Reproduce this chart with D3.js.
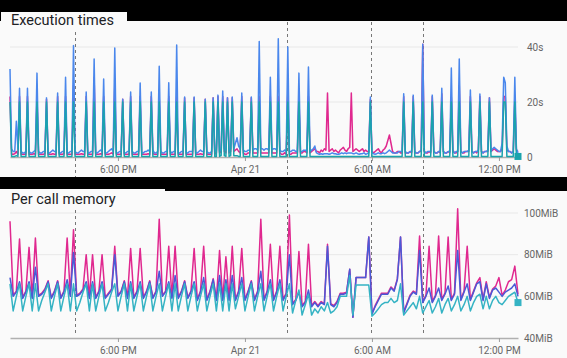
<!DOCTYPE html>
<html><head><meta charset="utf-8">
<script src="https://cdn.jsdelivr.net/npm/d3@7"></script>
<style>body{margin:0;background:#000;} svg{display:block;} text{font-family:Roboto,"Noto Sans",sans-serif;}</style>
</head><body><svg id="c" width="567" height="358"></svg>
<script>
// Time range: Apr 20 12:54 to Apr 21 12:54
const sampleStart = new Date(2021, 3, 20, 12, 54);
const execStepMin = 4.5;   // execution-time samples every 4.5 minutes
const memStepMin = 9;      // memory samples every 9 minutes
const xTickValues = [new Date(2021,3,20,18,0), new Date(2021,3,21,0,0), new Date(2021,3,21,6,0), new Date(2021,3,21,12,0)];
const xTickLabels = ["6:00 PM", "Apr 21", "6:00 AM", "12:00 PM"];
const eventTimes = [new Date(2021,3,20,15,58), new Date(2021,3,21,1,59), new Date(2021,3,21,5,57), new Date(2021,3,21,8,25)];

const execTicks = [0, 20, 40];
const execTickLabels = ["0", "20s", "40s"];
const memTicks = [40, 60, 80, 100];
const memTickLabels = ["40MiB", "60MiB", "80MiB", "100MiB"];

// Execution times (seconds)
const execBlue = [
32,3,2,2,13,3,25,2,1.5,1.5,2,25,2,1.5,1.5,2,2.5,30.5,2,1.5,
1.5,2,2,21.5,1.5,1.5,2,2.5,2,2,23.3,1.5,1.5,2,2,29,1.5,1.5,2,2,
40.5,2,1.5,1.5,2,2.5,2,2,23.6,1.5,1.5,2,2,35.6,1.5,1.5,2,2.5,2,28.4,
1.5,1.5,2,2.5,3,2,39.6,1.5,1.5,2,2,21,1.5,1.5,2,2,23.6,2,1.5,1.5,
2,2,26.9,1.5,1.5,2,2,2.5,2,23.6,2.5,1.5,1.5,2,33,2,1.5,1.5,2,2,
27,2,1.5,2,2,40.7,1.5,1.5,2,2,21.8,1.5,1.5,2,2,2,21.8,1.5,1.5,2,
2.5,2,2,21,2,1.5,1.5,2,21.5,2,2.5,22.5,2,3,24,3,2.5,21.5,2,3,
21.8,3,5,7,4,3,23.3,2.5,2,2,2.5,2.5,21.8,2.5,3,3,2.5,42,3,3,
2.5,3,3,2.5,29,2.5,3,3,2.5,43,2.5,2,2,2.5,2,40,2,2,2.5,2.5,
2,2,30.5,2,2,2.5,2.5,2,32.7,2,2.5,3,4,1.5,1.2,1,1.2,1,1.2,1.2,
1.2,1,1.2,1.5,1.2,1.2,1,1,1.2,1.5,1.2,1.5,1.2,1.5,1.5,1.5,1.2,1.2,1.5,1.2,
1,1.2,1.2,1.5,1,1.2,1.5,21.8,1.5,1.2,1,1.2,1.5,1.2,1.2,1.5,1.2,1.5,2,2.5,
2,1.5,1.5,1.5,1.5,2,2,2,23,2,1.5,1.5,2,2,22.5,2,1.5,1.5,2,2.5,
41,2,1.5,2,2,2,22.5,2,1.5,1.5,2,2,25,2,1.5,1.5,2,2,32.4,2,
1.5,2,2,35.6,2,1.5,2,2,2,2.5,24.4,2,1.5,2,2,2.5,22.9,2,1.5,2,
2,2.5,21.5,2,3,3.5,3,2.5,2,2,5,29,27,4,2,2,1.5,2,29,3,
1.5];
const execPink = [
22,1,1,1.2,2,1,22,1,1,1,1,22,1,1,1,1.2,1,22,1,1,
1,1,1.2,21,1,1,1,1.2,1,1,22,1,1,1,1.2,22,1,1,1,1,
26,1,1,1,1,1.2,1,1,22,1,1,1,1,29,1,1,1,1.2,1,22,
1,1,1,1.2,1.5,1,26,1,1,1,1,21,1,1,1,1,22,1,1,1,
1,1,22,1,1,1,1,1.2,1,22,1.2,1,1,1,22,1,1,1,1,1,
22,1,1,1,1,22,1,1,1,1,21.5,1,1,1,1,1,21.5,1,1,1,
1.2,1,1,21,1,1,1,1,21.5,1,1.5,22,1.5,2,22,2,1.5,21.5,1.5,2,
21.5,2,2.5,3,2,1.5,22,1.5,1,1,1.5,1.5,21.5,1.5,1.5,1.5,1.5,22,1.5,1.5,
1.5,1.5,1.5,1.5,22,1.5,1.5,1.5,1.5,22,1.5,1,1,1.5,1,24,1,1,1.5,1.5,
1.5,1.5,22,1.5,1.5,2,2,1.5,22,1.5,2,2.5,3,2,2,1.5,2.5,2,3,2.5,
23.3,2,2.5,3,2,2.5,2,1.5,2.5,3,3.5,2.5,2,3,3.5,23.3,2,2.5,3,2.5,
2,2.5,3,2,2.5,2,2,21,2,1.5,2,2.5,3,2,1.5,2.5,3,4,6,8,
5,2,1.5,1.5,2,2,1.5,1.5,22,1.5,1.5,1.5,2,1.5,22,1.5,1.5,1.5,2,2,
41,2,1.5,1.5,2,1.5,22,2,1.5,1.5,2,1.5,23,2,1.5,1.5,2,1.5,21.8,2.5,
1.5,1.5,2,26,2,1.5,1.5,2,2,2,22,2,1.5,2,1.5,2.5,22,2,1.5,2,
2,2,21.5,2,2.5,3,2.5,2,2,2,3,22,22,2.5,2,2,1.5,2,21.5,2.5,
2];
const execTeal = [
20,.2,.2,.2,.5,.2,20,.2,.2,.2,.2,20,.2,.2,.2,.2,.2,20,.2,.2,
.2,.2,.2,20,.2,.2,.2,.2,.2,.2,20,.2,.2,.2,.2,20,.2,.2,.2,.2,
20,.2,.2,.2,.2,.2,.2,.2,20,.2,.2,.2,.2,20,.2,.2,.2,.2,.2,20,
.2,.2,.2,.2,.2,.2,20,.2,.2,.2,.2,20,.2,.2,.2,.2,20,.2,.2,.2,
.2,.2,20,.2,.2,.2,.2,.2,.2,20,.2,.2,.2,.2,20,.2,.2,.2,.2,.2,
20,.2,.2,.2,.2,20,.2,.2,.2,.2,20,.2,.2,.2,.2,.2,20,.2,.2,.2,
.2,.2,.2,20,.2,.2,.2,.2,20,.2,.2,20,.2,.5,20,.5,.2,20,.2,.5,
20,.5,.5,.5,.2,.2,20,.2,.2,.2,.2,.2,20,.2,.2,.2,.2,20,.2,.2,
.2,.2,.2,.2,20,.2,.2,.2,.2,20,.2,.2,.2,.2,.2,20,.2,.2,.2,.2,
.2,.2,20,.2,.2,.2,.2,.2,20,.2,.2,.2,.2,.2,.2,.2,.2,.2,.2,.2,
.2,.2,.2,.2,.2,.2,.2,.2,.2,.2,.2,.2,.2,.2,.2,.2,.2,.2,.2,.2,
.2,.2,.2,.2,.2,.2,.2,20,.2,.2,.2,.2,.2,.2,.2,.2,.2,.2,.2,.2,
.2,.2,.2,.2,.2,.2,.2,.2,20,.2,.2,.2,.2,.2,20,.2,.2,.2,.2,.2,
20,.2,.2,.2,.2,.2,20,.2,.2,.2,.2,.2,20,.2,.2,.2,.2,.2,20,.2,
.2,.2,.2,20,.2,.2,.2,.2,.2,.2,20,.2,.2,.2,.2,.2,20,.2,.2,.2,
.2,.2,20,.2,.2,.2,.2,.2,.2,.2,.2,20,20,.2,.2,.2,.2,.2,20,.2,
.2];

// Per call memory (MiB)
const memPink = [96,60.5,62.5,87.5,59.5,62.5,83.5,59.5,88,60.5,61.5,63.5,67.5,59.5,62.5,67.5,59.5,62.5,88,60.5,92,60.5,61.5,63.5,80,59.5,80,59.5,62.5,80,59.5,61.5,63.5,84,60.5,62.5,67.5,59.5,83,59.5,62.5,83,59.5,62.5,67.5,59.5,62.5,97,60.5,62.5,84,59.5,84,59.5,62.5,67.5,59.5,62.5,83,58.5,62.5,84,58.5,62.5,68.5,58.5,82,58.5,79,58.5,84,58.5,62.5,83,58.5,62.5,67.5,58.5,62.5,97,58.5,62.5,85,58.5,62.5,84,58.5,61.5,99,56.5,58.5,81.5,55.5,57.5,85,55.5,57.5,55.5,57.5,56.5,85,56.5,55.5,57.5,61.5,61.5,62,73,50,69,69,69,69,88.5,51.5,55.5,58.5,61.5,61.5,61.5,64.5,63,68.5,88.5,52.5,56.5,60.5,62.5,61.5,89,57.5,60.5,84,57.5,60.5,89,58.5,61.5,88.5,58.5,61.5,102,58.5,62.5,84,58.5,62.5,66.5,69,58.5,67,59.5,63.5,65,69,60.5,63,67,68,74.5,61];
const memBlue = [69,60,62,67,59,62,67,59,74,60,61,63,67,59,62,67,59,62,68,60,81,60,61,63,67,59,67,59,62,67,59,61,63,80,60,62,67,59,67,59,62,67,59,62,67,59,62,72,60,62,67,59,70,59,62,67,59,62,67,58,62,69,58,62,68,58,70,58,68,58,70,58,62,69,58,62,67,58,62,72,58,62,68,58,62,68,58,61,80,56,58,62,55,57,63,55,57,55,57,56,84,56,55,57,61,61,61.5,73,50,69,69,69,69,88.5,51.5,55,58,61,61,61,64,62.5,68,88.5,52,56,60,62,61,82,57,60,64,57,60,64,58,61,65,58,61,82,58,62,66,58,62,66,67,58,66,59,63,64,62,60,62,63,64,66,60];
const memTeal = [66,53,60,66,53,60,66,53,66,53,58,62,66,53,60,66,53,60,66,53,66,53,57,62,66,53,66,53,60,66,53,57,62,66,53,60,66,53,66,53,60,66,53,60,66,53,60,66,53,60,66,53,66,53,60,66,53,60,66,53,60,66,53,60,66,53,66,53,66,53,66,54,60,66,53,60,66,53,60,66,53,60,66,53,60,66,53,60,66,52,58,63,51,56,61,51,54,52,55,53,57,52,53,55,60,60,60,70,51,65.5,65.5,65.5,65.5,65.5,50.5,52,54,56,57,57,59,57,58,66,51,53,55,57,54,60,52,55,58,52,55,59,52,56,59,53,56,60,53,56,60,53,57,60,61,54,60,54,58,60,57,56,58,60,61,62,57];

const execTimes = execBlue.map((_, i) => new Date(+sampleStart + i * execStepMin * 60000));
const memTimes = memBlue.map((_, i) => new Date(+sampleStart + i * memStepMin * 60000));

const svg = d3.select("#c");
svg.append("rect").attr("width", 567).attr("height", 358).attr("fill", "#000");

const x = d3.scaleTime().domain([sampleStart, memTimes[memTimes.length - 1]]).range([10, 518]);

function panel(cfg) {
  const g = svg.append("g");
  g.append("rect").attr("x", 0).attr("y", cfg.top).attr("width", 567).attr("height", cfg.bottom - cfg.top).attr("fill", "#fafafa");
  g.append("rect").attr("x", cfg.titleX0).attr("y", cfg.titleTop).attr("width", cfg.titleW).attr("height", cfg.titleH).attr("fill", "#fafafa");
  const y = d3.scaleLinear().domain(cfg.domain).range(cfg.range);
  g.selectAll(".grid").data(cfg.ticks.slice(1)).join("line")
    .attr("x1", 10).attr("x2", 518).attr("y1", d => y(d)).attr("y2", d => y(d))
    .attr("stroke", "#e8e8e8").attr("stroke-width", 1);
  g.selectAll(".ev").data(eventTimes).join("line")
    .attr("x1", d => Math.round(x(d)) + 0.5).attr("x2", d => Math.round(x(d)) + 0.5)
    .attr("y1", (d, i) => i === 0 ? cfg.dashTop0 : cfg.dashTop).attr("y2", cfg.dashBottom)
    .attr("stroke", "#777").attr("stroke-width", 1).attr("stroke-dasharray", "3,3");
  const ax = g.append("g").attr("transform", `translate(0,${y(cfg.domain[0])})`)
    .call(d3.axisBottom(x).tickValues(xTickValues).tickFormat((d, i) => xTickLabels[i]).tickSize(4).tickSizeOuter(0));
  ax.select(".domain").attr("stroke", "#b0b0b0").attr("stroke-width", 1.5);
  ax.selectAll(".tick line").attr("stroke", "#9e9e9e");
  ax.selectAll(".tick text").attr("fill", "#666").attr("font-size", 10).attr("font-family", "Roboto").attr("dy", "0.9em");
  const ay = g.append("g").attr("transform", "translate(518,0)")
    .call(d3.axisRight(y).tickValues(cfg.ticks).tickFormat((d, i) => cfg.tickLabels[i]).tickSize(0).tickPadding(cfg.yPad));
  ay.select(".domain").remove();
  ay.selectAll(".tick text").attr("fill", "#666").attr("font-size", 10).attr("font-family", "Roboto");
  const cid = "clip" + cfg.top;
  svg.append("clipPath").attr("id", cid).append("rect").attr("x", 9).attr("y", cfg.top).attr("width", 511).attr("height", cfg.bottom - cfg.top);
  const lg = g.append("g").attr("clip-path", `url(#${cid})`);
  const line = d3.line().x((d, i) => x(cfg.times[i])).y(d => y(d));
  cfg.series.forEach(s => {
    lg.append("path").datum(s.values).attr("d", line).attr("fill", "none")
      .attr("stroke", s.color).attr("stroke-width", 1.5).attr("stroke-linejoin", "round");
  });
  const last = cfg.series[cfg.series.length - 1];
  g.append("rect").attr("x", x(cfg.times[cfg.times.length - 1]) - 3.5).attr("y", y(last.values[last.values.length - 1]) - 3.5)
    .attr("width", 7).attr("height", 7).attr("fill", last.color);
  g.append("text").attr("x", 11).attr("y", cfg.titleBase).attr("font-size", 14.5).attr("fill", "#202124").text(cfg.title);
}

panel({
  top: 21, bottom: 177, titleX0: 1, titleTop: 12, titleW: 126, titleH: 20, titleBase: 25,
  title: "Execution times", domain: [0, 40], range: [157, 47], times: execTimes,
  ticks: execTicks, tickLabels: execTickLabels, yPad: 9,
  dashTop0: 32, dashTop: 22, dashBottom: 177,
  series: [
    {values: execPink, color: "#e0288f"},
    {values: execBlue, color: "#4a87ec"},
    {values: execTeal, color: "#1aa3ad"}
  ]
});
panel({
  top: 191, bottom: 358, titleX0: 0, titleTop: 189, titleW: 165, titleH: 20, titleBase: 204,
  title: "Per call memory", domain: [40, 100], range: [338, 213], times: memTimes,
  ticks: memTicks, tickLabels: memTickLabels, yPad: 6,
  dashTop0: 210, dashTop: 192, dashBottom: 336,
  series: [
    {values: memPink, color: "#e0288f"},
    {values: memBlue, color: "#4a5ad6"},
    {values: memTeal, color: "#35b3c4"}
  ]
});
</script></body></html>
